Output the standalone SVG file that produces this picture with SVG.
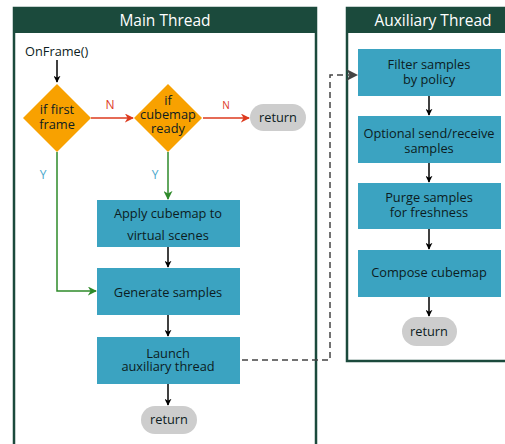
<svg xmlns="http://www.w3.org/2000/svg" width="505" height="444" viewBox="0 0 505 444">
  <defs>
    <style>
      text { font-family: "Open Sans", "Liberation Sans", sans-serif; }
      .frame { fill: #ffffff; stroke: #1b4a3c; stroke-width: 2.5; }
      .head { fill: #1b4a3c; }
      .title { fill: #ffffff; font-size: 15.5px; text-anchor: middle; }
      .box { fill: #3ba3c1; }
      .dec { fill: #f8a100; }
      .pill { fill: #cdcdcd; }
      .lbl { fill: #0c1c22; font-size: 12.8px; text-anchor: middle; }
      .flow { fill: none; stroke: #000000; stroke-width: 1.5; }
      .no { fill: none; stroke: #dd3a1e; stroke-width: 1.5; }
      .yes { fill: none; stroke: #2e8a2a; stroke-width: 1.5; }
      .dash { fill: none; stroke: #444444; stroke-width: 1.5; stroke-dasharray: 6 4; }
      .nlab { fill: #dd3a1e; text-anchor: middle; }
      .ylab { fill: #4aa8cc; font-size: 12px; text-anchor: middle; }
    </style>
    <marker id="ahBlack" viewBox="0 0 10 10" refX="9" refY="5" markerWidth="7" markerHeight="7" orient="auto" markerUnits="userSpaceOnUse">
      <path d="M0,0 L10,5 L0,10 L3,5 Z" fill="#000000"/>
    </marker>
    <marker id="ahRed" viewBox="0 0 10 10" refX="9" refY="5" markerWidth="9" markerHeight="9" orient="auto" markerUnits="userSpaceOnUse">
      <path d="M0,0 L10,5 L0,10 L3,5 Z" fill="#dd3a1e"/>
    </marker>
    <marker id="ahGreen" viewBox="0 0 10 10" refX="9" refY="5" markerWidth="9" markerHeight="9" orient="auto" markerUnits="userSpaceOnUse">
      <path d="M0,0 L10,5 L0,10 L3,5 Z" fill="#2e8a2a"/>
    </marker>
    <marker id="ahGray" viewBox="0 0 10 10" refX="9" refY="5" markerWidth="12" markerHeight="12" orient="auto" markerUnits="userSpaceOnUse">
      <path d="M0,0 L10,5 L0,10 L3,5 Z" fill="#444444"/>
    </marker>
  </defs>

  <!-- swimlane frames -->
  <g id="lane-main">
    <rect class="frame" x="14" y="8" width="302" height="450"/>
    <rect class="head" x="14" y="8" width="302" height="25"/>
    <text class="title" x="165" y="26">Main Thread</text>
  </g>
  <g id="lane-aux">
    <rect class="frame" x="347" y="8" width="170" height="353"/>
    <rect class="head" x="347" y="8" width="170" height="25"/>
    <text class="title" x="433" y="26">Auxiliary Thread</text>
  </g>

  <!-- connectors -->
  <g id="connectors">
    <line class="flow" x1="57" y1="60" x2="57" y2="82" marker-end="url(#ahBlack)"/>
    <line class="no" x1="91" y1="118" x2="133" y2="118" marker-end="url(#ahRed)"/>
    <text class="nlab" x="110" y="109" font-size="12">N</text>
    <line class="no" x1="203" y1="118" x2="249" y2="118" marker-end="url(#ahRed)"/>
    <text class="nlab" x="226" y="109" font-size="10">N</text>
    <polyline class="yes" points="57,152 57,291 96,291" marker-end="url(#ahGreen)"/>
    <text class="ylab" x="43" y="179">Y</text>
    <line class="yes" x1="168" y1="152" x2="168" y2="199" marker-end="url(#ahGreen)"/>
    <text class="ylab" x="155" y="179">Y</text>
    <line class="flow" x1="168" y1="247" x2="168" y2="267" marker-end="url(#ahBlack)"/>
    <line class="flow" x1="168" y1="315" x2="168" y2="336" marker-end="url(#ahBlack)"/>
    <line class="flow" x1="168" y1="384" x2="168" y2="405" marker-end="url(#ahBlack)"/>
    <polyline class="dash" points="242,360 330,360 330,75 357,75" marker-end="url(#ahGray)"/>
    <line class="flow" x1="429" y1="96" x2="429" y2="115" marker-end="url(#ahBlack)"/>
    <line class="flow" x1="429" y1="163" x2="429" y2="182" marker-end="url(#ahBlack)"/>
    <line class="flow" x1="429" y1="229" x2="429" y2="249" marker-end="url(#ahBlack)"/>
    <line class="flow" x1="429" y1="297" x2="429" y2="316" marker-end="url(#ahBlack)"/>
  </g>

  <!-- main thread nodes -->
  <g id="onframe">
    <text x="25" y="56" font-size="12.8" fill="#0c1c22">OnFrame()</text>
  </g>
  <g id="if-first-frame">
    <polygon class="dec" points="57,84 91,118 57,152 23,118"/>
    <text class="lbl" x="57" y="114">if first</text>
    <text class="lbl" x="57" y="129">frame</text>
  </g>
  <g id="if-cubemap-ready">
    <polygon class="dec" points="168,84 202,118 168,152 134,118"/>
    <text class="lbl" x="168" y="105">if</text>
    <text class="lbl" x="168" y="119">cubemap</text>
    <text class="lbl" x="168" y="133">ready</text>
  </g>
  <g id="return-early">
    <rect class="pill" x="250" y="104" width="56" height="27" rx="13.5"/>
    <text class="lbl" x="278" y="122">return</text>
  </g>
  <g id="apply-cubemap">
    <rect class="box" x="97" y="200" width="143" height="47"/>
    <text class="lbl" x="168" y="218">Apply cubemap to</text>
    <text class="lbl" x="168" y="240">virtual scenes</text>
  </g>
  <g id="generate-samples">
    <rect class="box" x="97" y="268" width="143" height="47"/>
    <text class="lbl" x="168" y="297">Generate samples</text>
  </g>
  <g id="launch-aux">
    <rect class="box" x="97" y="337" width="143" height="47"/>
    <text class="lbl" x="168" y="358">Launch</text>
    <text class="lbl" x="168" y="371">auxiliary thread</text>
  </g>
  <g id="return-main">
    <rect class="pill" x="141" y="406" width="56" height="28" rx="14"/>
    <text class="lbl" x="169" y="424">return</text>
  </g>

  <!-- auxiliary thread nodes -->
  <g id="filter-samples">
    <rect class="box" x="358" y="49" width="143" height="47"/>
    <text class="lbl" x="429" y="69">Filter samples</text>
    <text class="lbl" x="429" y="84">by policy</text>
  </g>
  <g id="send-receive">
    <rect class="box" x="358" y="116" width="143" height="47"/>
    <text class="lbl" x="429" y="138">Optional send/receive</text>
    <text class="lbl" x="429" y="153">samples</text>
  </g>
  <g id="purge-samples">
    <rect class="box" x="358" y="183" width="143" height="46"/>
    <text class="lbl" x="429" y="202">Purge samples</text>
    <text class="lbl" x="429" y="217">for freshness</text>
  </g>
  <g id="compose-cubemap">
    <rect class="box" x="358" y="250" width="143" height="47"/>
    <text class="lbl" x="429" y="277">Compose cubemap</text>
  </g>
  <g id="return-aux">
    <rect class="pill" x="402" y="317" width="55" height="29" rx="14.5"/>
    <text class="lbl" x="429" y="336">return</text>
  </g>
</svg>
